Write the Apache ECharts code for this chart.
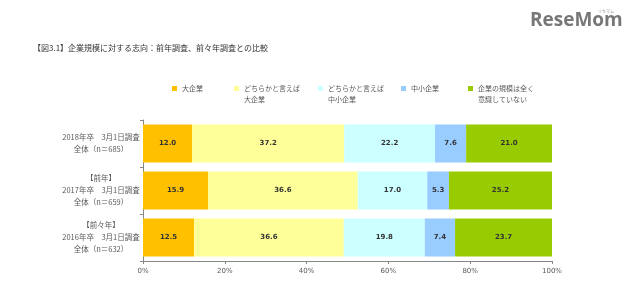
<!DOCTYPE html>
<html><head><meta charset="utf-8">
<script src="https://cdn.jsdelivr.net/npm/echarts@6/dist/echarts.min.js"></script>
<style>html,body{margin:0;padding:0;background:#fff}#c{width:640px;height:304px}</style>
</head><body><div id="c"></div>
<script>
const categories = [
  "2018年卒　3月1日調査\n全体（n＝685）",
  "【前年】\n2017年卒　3月1日調査\n全体（n＝659）",
  "【前々年】\n2016年卒　3月1日調査\n全体（n＝632）"
];
const seriesNames = ["大企業", "どちらかと言えば\n大企業", "どちらかと言えば\n中小企業", "中小企業", "企業の規模は全く\n意識していない"];
const large = [12.0, 15.9, 12.5];
const ratherLarge = [37.2, 36.6, 36.6];
const ratherSmall = [22.2, 17.0, 19.8];
const small = [7.6, 5.3, 7.4];
const noCare = [21.0, 25.2, 23.7];
const colors = ["#FFC000", "#FFFF99", "#CCFFFF", "#99CCFF", "#99CC00"];
const xTicks = [0, 20, 40, 60, 80, 100];

const FONT = "'DejaVu Sans', 'Noto Sans CJK JP', sans-serif";
const CJK = "'Noto Sans CJK JP', sans-serif";
const values = [large, ratherLarge, ratherSmall, small, noCare];
const legendLeft = [172, 234, 318, 401, 468];

const legends = seriesNames.map((n, i) => {
  const two = n.indexOf("\n") >= 0;
  return {
    data: [n], left: legendLeft[i], top: two ? 72 : 83, padding: 0,
    icon: 'rect', itemWidth: 5, itemHeight: 5, selectedMode: false,
    formatter: name => two ? " \n" + name : name,
    textStyle: { fontSize: 7, color: '#595959', fontFamily: CJK, lineHeight: 11 }
  };
});

const option = {
  animation: false,
  backgroundColor: '#fff',
  title: {
    text: "【図3.1】企業規模に対する志向：前年調査、前々年調査との比較",
    left: 33, top: 44, padding: 0,
    textStyle: { fontSize: 8, fontWeight: 'normal', color: '#333', fontFamily: CJK }
  },
  legend: legends,
  graphic: [
    { type: 'text', left: 530, top: 11, style: { text: 'ReseMom', fontSize: 19, fontWeight: 'bold', fill: '#777', fontFamily: "'Open Sans', sans-serif" } },
    { type: 'text', left: 598, top: 9, style: { text: 'リセマム', fontSize: 4, fill: '#999', fontFamily: CJK } }
  ],
  grid: { left: 143, right: 88, top: 120, bottom: 43 },
  xAxis: {
    type: 'value', min: 0, max: 100, interval: 20,
    axisLine: { show: true, lineStyle: { color: '#868686' } },
    axisTick: { show: true, length: 3, lineStyle: { color: '#868686' } },
    splitLine: { show: false },
    axisLabel: { formatter: v => xTicks.includes(v) ? v + '%' : '', fontSize: 7, color: '#595959', fontFamily: FONT, margin: 7 }
  },
  yAxis: {
    type: 'category', data: categories, inverse: true,
    axisLine: { show: true, lineStyle: { color: '#868686' } },
    axisTick: { show: true, length: 3, lineStyle: { color: '#868686' } },
    axisLabel: { fontSize: 7.5, color: '#595959', fontFamily: CJK, align: 'center', margin: 42, lineHeight: 12 }
  },
  series: values.map((v, i) => ({
    name: seriesNames[i], type: 'bar', stack: 'total', data: v,
    barCategoryGap: '19%',
    itemStyle: { color: colors[i] },
    label: { show: true, position: 'inside', formatter: p => p.value.toFixed(1), fontSize: 7, fontWeight: 'bold', color: '#333', fontFamily: FONT }
  }))
};
echarts.init(document.getElementById('c')).setOption(option);
</script></body></html>
